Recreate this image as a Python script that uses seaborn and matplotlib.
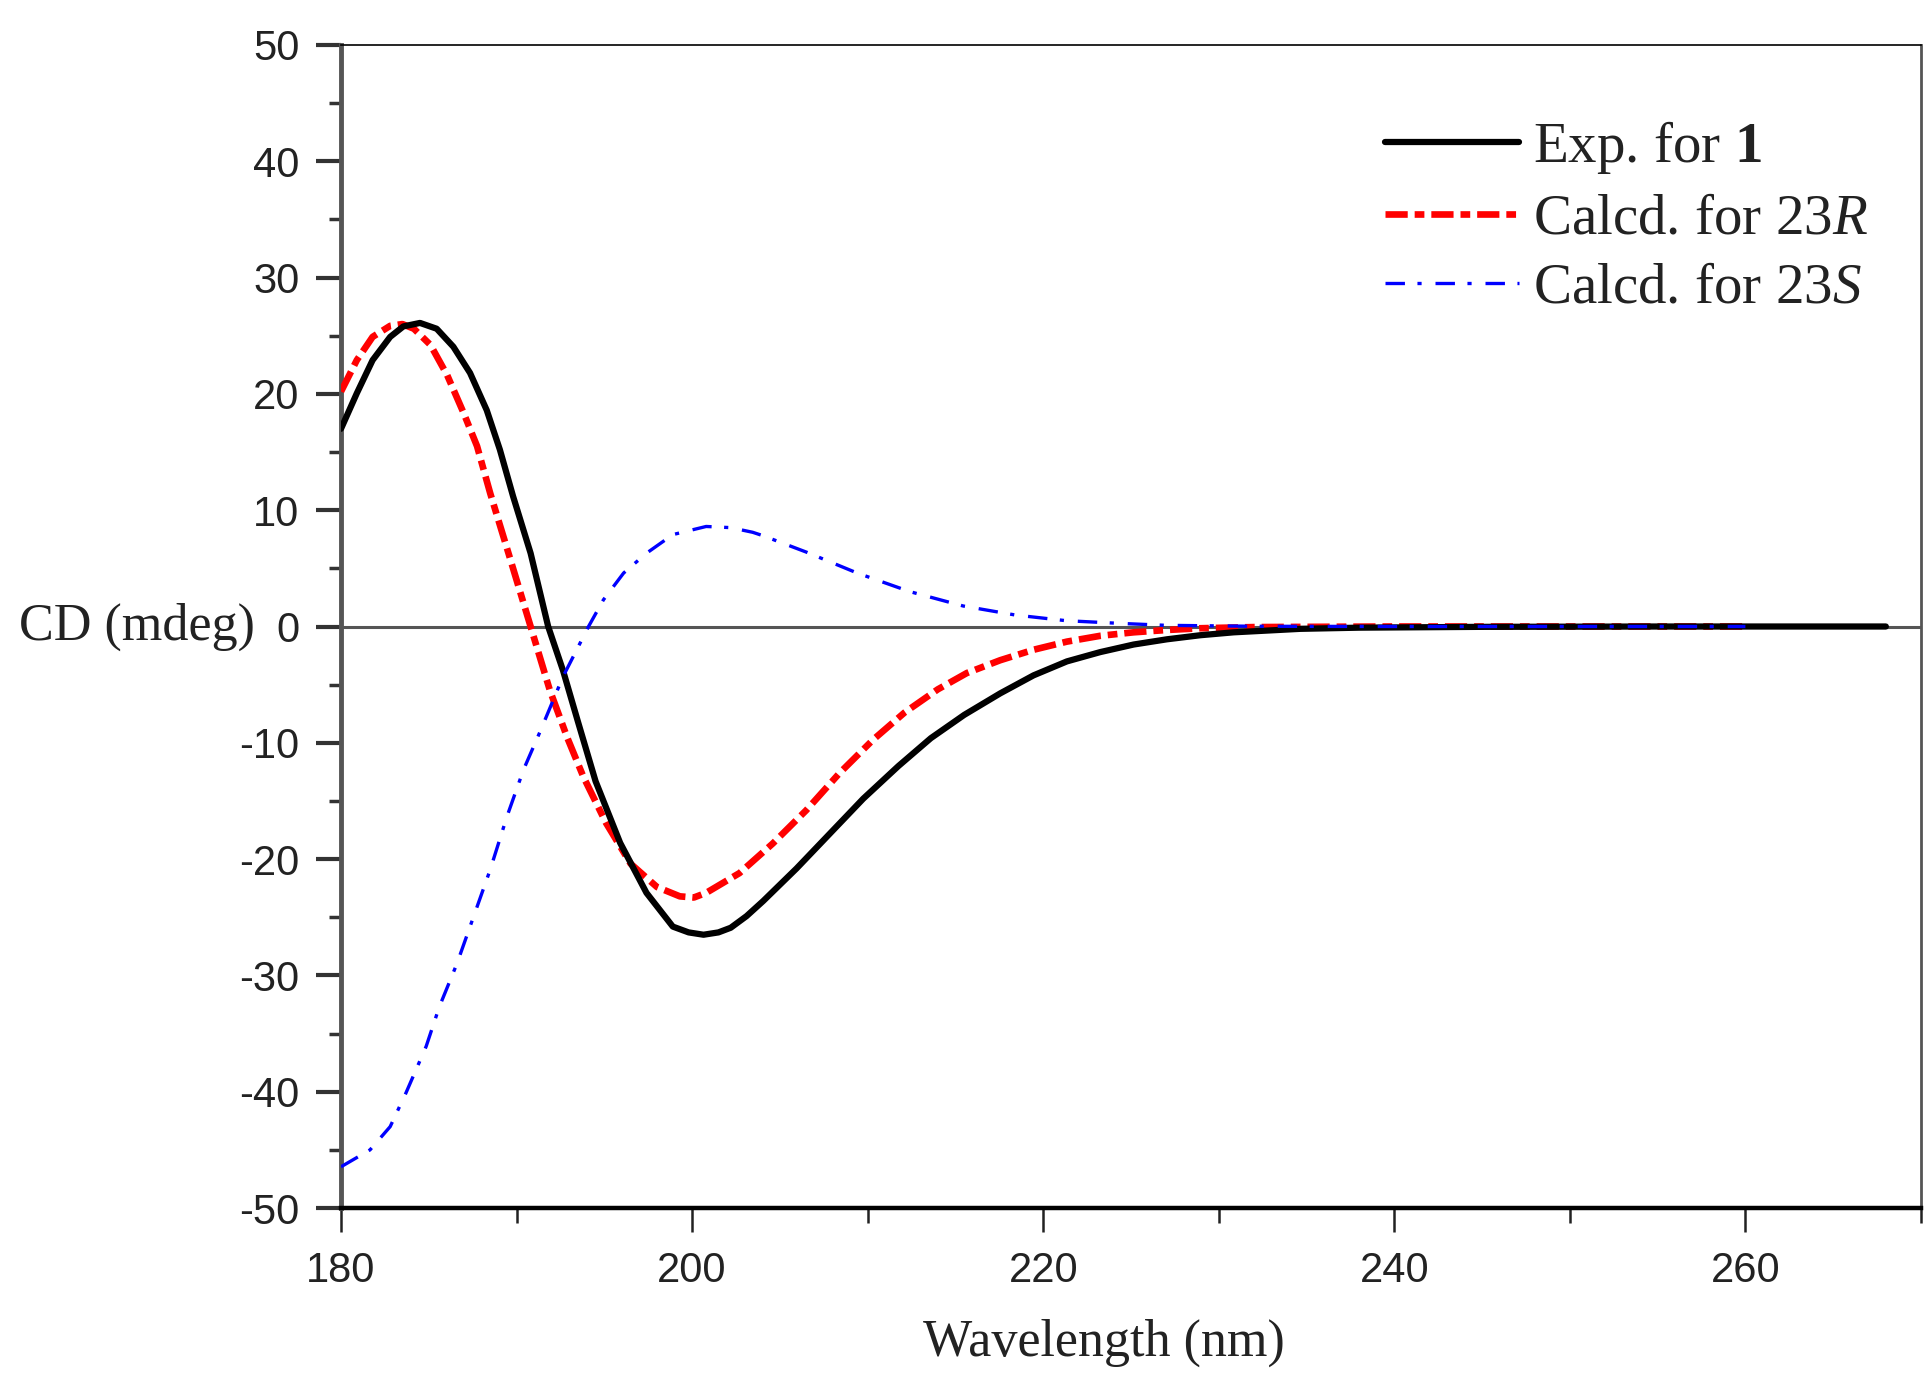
import matplotlib
matplotlib.use("Agg")
import matplotlib.pyplot as plt
from matplotlib.ticker import MultipleLocator
import seaborn as sns

# values
exp_nm = [180.0, 180.9, 181.8, 182.8, 183.55, 184.5, 185.45, 186.4, 187.35, 188.3, 189.05, 189.8,
          190.8, 191.8, 192.65, 193.5, 194.5, 195.9, 197.4, 198.9, 199.8, 200.65, 201.5, 202.2,
          203.1, 204.05, 205.95, 207.85, 209.75, 211.75, 213.6, 215.5, 217.55, 219.45, 221.35,
          223.25, 225.15, 227.05, 228.95, 230.85, 232.75, 234.65, 238, 245, 255, 268]
exp_cd = [17.0, 20.05, 22.9, 24.9, 25.8, 26.1, 25.6, 24.05, 21.8, 18.6, 15.2, 11.2,
          6.3, 0.0, -3.8, -8.2, -13.3, -18.6, -22.9, -25.8, -26.3, -26.5, -26.3, -25.9,
          -24.9, -23.6, -20.8, -17.8, -14.8, -12.0, -9.6, -7.6, -5.75, -4.2, -3.0,
          -2.2, -1.55, -1.1, -0.75, -0.5, -0.35, -0.2, -0.1, -0.03, 0, 0]

calcR_nm = [180.0, 180.9, 181.8, 182.8, 183.5, 184.15, 185.1, 186.05, 187.0, 187.75, 188.5, 189.6,
            190.8, 191.9, 192.9, 193.8, 195.1, 196.5, 198.0, 199.3, 200.1, 200.8, 202.7, 204.6,
            206.5, 208.4, 210.3, 212.1, 214.0, 215.65, 217.55, 219.45, 221.35, 223.25, 225.15,
            227.05, 228.95, 232, 240, 260]
calcR_cd = [20.2, 22.9, 24.9, 25.85, 26.0, 25.6, 24.2, 21.6, 18.3, 15.5, 11.45, 6.0,
            0.0, -5.5, -9.6, -12.9, -16.9, -20.4, -22.4, -23.2, -23.3, -22.9, -21.2, -18.65,
            -15.8, -12.6, -9.75, -7.4, -5.4, -4.0, -2.9, -2.0, -1.3, -0.8, -0.5,
            -0.3, -0.15, -0.05, 0, 0]

calcS_nm = [180, 181.65, 182.8, 183.7, 184.85, 185.6, 186.6, 187.55, 188.5, 189.45, 190.4, 191.35,
            192.65, 194.1, 194.95, 196.1, 197.4, 198.9, 200.8, 202.2, 203.45, 204.05, 206.5, 209.4,
            212.4, 215.45, 218.4, 221.3, 224.35, 227, 232, 240, 260]
calcS_cd = [-46.45, -45.0, -43.0, -40.1, -36.1, -32.7, -29.0, -24.95, -20.9, -16.35, -12.3, -9.0,
            -4.3, 0.0, 2.3, 4.6, 6.3, 7.9, 8.6, 8.5, 8.1, 7.8, 6.4, 4.6,
            3.0, 1.76, 0.99, 0.5, 0.27, 0.1, 0.02, 0, 0]

labels = ["Exp. for $\\mathbf{1}$", "Calcd. for 23$\\mathit{R}$", "Calcd. for 23$\\mathit{S}$"]

sns.set_style("ticks")
plt.rcParams["font.family"] = ["Liberation Sans", "DejaVu Sans"]
plt.rcParams["mathtext.fontset"] = "custom"
plt.rcParams["mathtext.rm"] = "Liberation Serif"
plt.rcParams["mathtext.it"] = "Liberation Serif:italic"
plt.rcParams["mathtext.bf"] = "Liberation Serif:bold"
plt.rcParams["axes.unicode_minus"] = False
plt.rcParams["lines.scale_dashes"] = False
plt.rcParams["lines.solid_joinstyle"] = "round"
plt.rcParams["lines.dash_joinstyle"] = "round"

fig, ax = plt.subplots(figsize=(19.31, 14), dpi=100)
fig.subplots_adjust(left=0.1766, right=0.9948, bottom=0.1371, top=0.9679)

ax.axhline(0, color="#555555", lw=2.2, zorder=1)

sns.lineplot(x=exp_nm, y=exp_cd, ax=ax, color="black", lw=4.5, label=labels[0], zorder=4)
sns.lineplot(x=calcR_nm, y=calcR_cd, ax=ax, color="#ff0000", lw=4.8,
             linestyle=(0, (16, 5, 7, 5)), label=labels[1], zorder=3)
sns.lineplot(x=calcS_nm, y=calcS_cd, ax=ax, color="#0000ff", lw=2.4,
             linestyle=(0, (14, 9, 3, 10)), label=labels[2], zorder=5)

ax.set_xlim(180, 270)
ax.set_ylim(-50, 50)
ax.xaxis.set_major_locator(MultipleLocator(20))
ax.xaxis.set_minor_locator(MultipleLocator(10))
ax.yaxis.set_major_locator(MultipleLocator(10))
ax.yaxis.set_minor_locator(MultipleLocator(5))

ax.tick_params(axis="y", which="major", length=18, width=3, color="#333333",
               labelsize=30, pad=12, labelcolor="#222222")
ax.tick_params(axis="y", which="minor", length=9, width=2.5, color="#333333")
ax.tick_params(axis="x", which="major", length=17, width=1.8, color="#222222",
               labelsize=30, pad=14, labelcolor="#222222")
ax.tick_params(axis="x", which="minor", length=11, width=1.8, color="#222222")

for side, col, w in [("left", "#555555", 3.5), ("bottom", "black", 3.2),
                     ("top", "black", 1.2), ("right", "#555555", 2.0)]:
    ax.spines[side].set_color(col)
    ax.spines[side].set_linewidth(w)
    ax.spines[side].set_visible(True)

serif = ["Liberation Serif", "DejaVu Serif"]
ax.set_xlabel("Wavelength (nm)", family=serif, fontsize=37.5, color="#222222")
ax.xaxis.set_label_coords(0.483, -0.095)
ax.set_ylabel("CD (mdeg)", family=serif, fontsize=37.5, color="#222222",
              rotation=0, ha="left", va="center")
ax.yaxis.set_label_coords(-0.204, 0.5)

leg = ax.legend(loc="upper left", bbox_to_anchor=(0.661, 0.936), frameon=False,
                prop={"family": serif, "size": 41}, handlelength=2.35, handletextpad=0.25,
                labelspacing=0.3, borderpad=0, borderaxespad=0)
for t in leg.get_texts():
    t.set_color("#222222")

fig.savefig("out.png", dpi=100)
